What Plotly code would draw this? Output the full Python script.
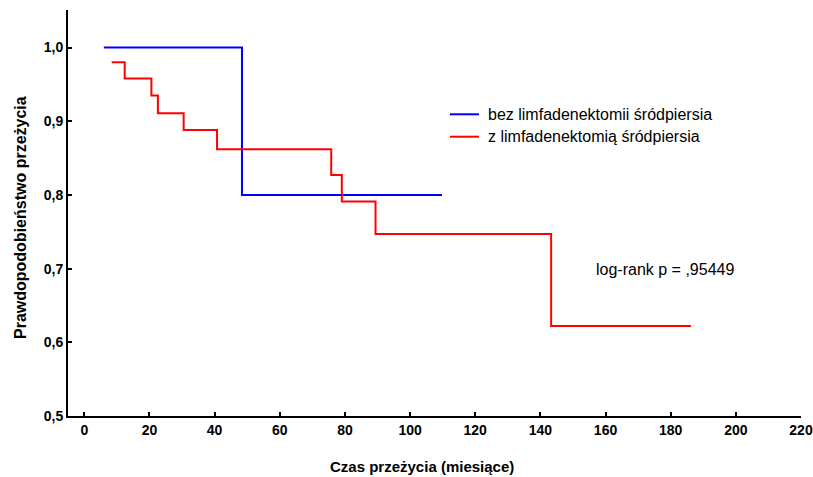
import plotly.graph_objects as go

blue_t = [6.0, 48.4, 109.8]
blue_s = [1.0, 0.8, 0.8]
red_t = [8.4, 12.4, 20.6, 22.6, 30.5, 40.75, 75.8, 79.05, 89.4, 143.3, 186.2]
red_s = [0.980, 0.958, 0.935, 0.911, 0.888, 0.862, 0.827, 0.791, 0.747, 0.622, 0.622]
x_ticks = list(range(0, 221, 20))
y_ticks = [0.5, 0.6, 0.7, 0.8, 0.9, 1.0]
names = ["bez limfadenektomii śródpiersia", "z limfadenektomią śródpiersia"]
colors = ["#0000FF", "#FF0000"]
pval_text = "log-rank p = ,95449"
x_title = "Czas przeżycia (miesiące)"
y_title = "Prawdopodobieństwo przeżycia"

FONT = "Arial, Liberation Sans, sans-serif"
W, H = 813, 477
# screen-pixel plot box: left 68, right 801, top 10, bottom 416
L, T = 68, 10
R = W - 801
B = H - 416
PW, PH = W - L - R, H - T - B

def px(xs):
    return (xs - L) / PW

def py(ys):
    return (H - B - ys) / PH

fig = go.Figure()
fig.add_trace(go.Scatter(x=blue_t, y=blue_s, mode="lines", line=dict(color=colors[0], width=2, shape="hv"), name=names[0]))
fig.add_trace(go.Scatter(x=red_t, y=red_s, mode="lines", line=dict(color=colors[1], width=2, shape="hv"), name=names[1]))

fig.add_annotation(x=156.5, y=0.6984, text=pval_text, showarrow=False, xanchor="left", yanchor="middle",
                   font=dict(family=FONT, size=16, color="black"))

# manual legend
for i, (nm, c) in enumerate(zip(names, colors)):
    yy = py(114.3 + 22.4 * i)
    fig.add_shape(type="line", xref="paper", yref="paper", x0=px(450), x1=px(479), y0=yy, y1=yy,
                  line=dict(color=c, width=2))
    fig.add_annotation(xref="paper", yref="paper", x=px(486), y=yy, text=nm, showarrow=False,
                       xanchor="left", yanchor="middle", font=dict(family=FONT, size=16, color="black"))

# axis titles
fig.add_annotation(xref="paper", yref="paper", x=px(422), y=py(466), text="<b>" + x_title + "</b>", showarrow=False,
                   xanchor="center", yanchor="middle", font=dict(family=FONT, size=15, color="black"))
fig.add_annotation(xref="paper", yref="paper", x=px(20), y=py(218), text="<b>" + y_title + "</b>", showarrow=False,
                   xanchor="center", yanchor="middle", textangle=-90, font=dict(family=FONT, size=16, color="black"))

fig.update_layout(
    width=W, height=H,
    margin=dict(l=L, r=R, t=T, b=B),
    plot_bgcolor="white", paper_bgcolor="white",
    font=dict(family=FONT, color="black"),
    showlegend=False,
    xaxis=dict(range=[-5, 220], tickvals=x_ticks, showline=True, linecolor="black", linewidth=2,
               ticks="inside", ticklen=4, tickwidth=1.5, tickcolor="black", showgrid=False, zeroline=False,
               automargin=False, ticklabeloverflow="allow",
               tickfont=dict(family=FONT, size=14, color="black", weight="bold")),
    yaxis=dict(range=[0.5, 1.051], tickvals=y_ticks, tickformat=".1f", showline=True, linecolor="black", linewidth=2,
               ticks="inside", ticklen=4, tickwidth=1.5, tickcolor="black", showgrid=False, zeroline=False,
               automargin=False, ticklabeloverflow="allow",
               tickfont=dict(family=FONT, size=14, color="black", weight="bold")),
    separators=",.",
)
fig.write_html("out.html", config={"displayModeBar": False},
               post_script="document.body.style.margin='0';document.body.style.overflow='hidden';")
